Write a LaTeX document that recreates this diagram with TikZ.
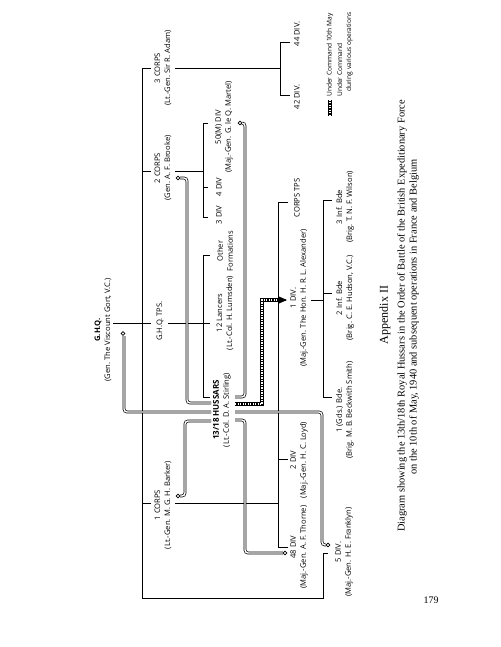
\documentclass[tikz,border=0pt]{standalone}
\usepackage{fontspec}
\setmainfont{Liberation Serif}
\newfontfamily\lab{Open Sans}
\begin{document}
\begin{tikzpicture}[x=1pt,y=-1pt,
 lbl/.style={font=\lab\fontsize{7.6}{10}\selectfont, rotate=90, align=center, inner sep=0pt},
 leg/.style={font=\lab\fontsize{6.6}{9}\selectfont, rotate=90, inner sep=0pt},
 ln/.style={line width=0.75pt},
 dbl/.style={draw=black, double=white, double distance=1.4pt, line width=0.7pt, rounded corners=3pt},
 hook/.style={line width=0.7pt},
 chain/.style={draw=white, line width=1.1pt, dash pattern=on 1.1pt off 1.4pt, preaction={draw=black, line width=3.4pt, solid}},
 ttl/.style={font=\fontsize{10.4}{12}\selectfont, rotate=90, inner sep=0pt}
]
\fill[white] (0,0) rectangle (500,647);
\path[use as bounding box] (0,0) rectangle (500,647);

% ---------- labels ----------
\node[lbl] (ghq) at (103,330) {\textbf{G.H.Q.}\\(Gen. The Viscount Gort, V.C.)};
\node[lbl] (c3) at (163,68) {3 CORPS\\(Lt.-Gen. Sir R. Adam)};
\node[lbl] (c2) at (163,168) {2 CORPS\\(Gen. A. F. Brooke)};
\node[lbl] (ghqtps) at (160,321) {G.H.Q. TPS.};
\node[lbl] (c1) at (163,505) {1 CORPS\\(Lt.-Gen. M. G. H. Barker)};
\node[lbl] (d44) at (297,34) {44 DIV.};
\node[lbl] (d42) at (297,97) {42 DIV.};
\node[lbl] (d50) at (224,127) {50(M) DIV\\(Maj.-Gen. G. le Q. Martel)};
\node[lbl] (d4) at (219,187) {4 DIV};
\node[lbl] (d3) at (219,215) {3 DIV};
\node[lbl] (oth) at (225,251) {Other\\Formations};
\node[lbl] (l12) at (225,313) {12 Lancers\\(Lt.-Col. H. Lumsden)};
\node[lbl] (hus) at (222,410) {{\bfseries\fontsize{8}{10}\selectfont 13/18 HUSSARS}\\(Lt.-Col. D. A. Stirling)};
\node[lbl] (ctps) at (297,198) {CORPS TPS};
\node[lbl] (d1) at (299,298) {1 DIV.\\(Maj.-Gen. The Hon. H. R. L. Alexander)};
\node[lbl] (d2) at (299,460) {2 DIV\\(Maj.-Gen. H. C. Loyd)};
\node[lbl] (d48) at (299,547) {48 DIV\\(Maj.-Gen. A. F. Thorne)};
\node[lbl] (b3) at (345,207) {3 Inf. Bde\\(Brig. T. N. F. Wilson)};
\node[lbl] (b2) at (345,298) {2 Inf. Bde\\(Brig. C. E. Hudson, V.C.)};
\node[lbl] (b1) at (345,410) {1 (Gds.) Bde.\\(Brig. M. B. Beckwith Smith)};
\node[lbl] (d5) at (344,552) {5 DIV.\\(Maj.-Gen. H. E. Franklyn)};

% ---------- single-line tree ----------
\draw[ln] (142,68) -- (142,598) -- (323,598) -- (323,553) -- (328,553);
\draw[ln] (142,68) -- (151,68) (175,68) -- (280,68);
\draw[ln] (290,42) -- (280,42) -- (280,95) -- (290,95);
\draw[ln] (142,171) -- (151,171) (175,171) -- (203,171);
\draw[ln] (208,123) -- (203,123) -- (203,217) -- (208,217) (203,187) -- (208,187);
\draw[ln] (113,323) -- (151,323) (168,323) -- (210,323);
\draw[ln] (210,255) -- (203,255) -- (203,397) -- (210,397);
\draw[ln] (142,503) -- (151,503) (175,503) -- (278,503);
\draw[ln] (288,202) -- (278,202) -- (278,547) -- (288,547);
\draw[ln] (278,300) -- (286,300) (278,459) -- (288,459);
\draw[ln] (311,300) -- (323,300);
\draw[ln] (332,200) -- (323,200) -- (323,397) -- (332,397) (323,293) -- (332,293);

% ---------- double lines (under command during operations) ----------
\draw[dbl] (211,403) -- (187,403) -- (187,178) -- (180,178);
\draw[hook] (178,178) circle (1.8pt);
\draw[dbl] (211,412) -- (124,412) -- (124,336);
\draw[hook] (123,333.5) circle (1.8pt);
\draw[dbl] (211,421) -- (185,421) -- (185,496) -- (180,496);
\draw[hook] (178,496) circle (1.8pt);
\draw[dbl] (235,397) -- (245,397) -- (245,123) -- (242,123);
\draw[hook] (240,123) circle (1.8pt);
\draw[dbl] (235,412) -- (322,412) -- (322,545) -- (326,545);
\draw[hook] (328,545) circle (1.8pt);
\draw[dbl] (235,420) -- (245,420) -- (245,553) -- (283,553);
\draw[hook] (285,553) circle (1.8pt);

% ---------- heavy chain line (under command 10th May) ----------
\draw[chain] (235,404) -- (262,404) -- (262,300) -- (280,300);
\fill (279,296.5) -- (287,300) -- (279,303.5) -- cycle;

% ---------- legend ----------
\draw[chain] (330,116) -- (330,100);
\node[leg, anchor=west] (leg1) at (330,97) {Under Command 10th May};
\draw[dbl] (341,116) -- (341,100);
\node[leg, anchor=north west, align=left] (leg2) at (337,97) {Under Command\\\hspace{5pt}during various operations};

% ---------- title ----------
\node[ttl, font=\fontsize{12}{14}\selectfont] (app) at (385,315) {Appendix II};
\node[ttl] (t1) at (402,316) {Diagram showing the 13th/18th Royal Hussars in the Order of Battle of the British Expeditionary Force};
\node[ttl] (t2) at (414,317) {on the 10th of May, 1940 and subsequent operations in France and Belgium};
\node[font=\fontsize{10}{12}\selectfont, inner sep=0pt] (pg) at (431,600) {179};
\end{tikzpicture}
\end{document}
